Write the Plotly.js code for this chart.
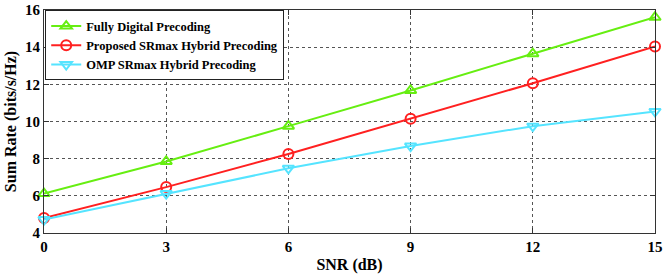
<!DOCTYPE html>
<html>
<head>
<meta charset="utf-8">
<script src="https://cdn.plot.ly/plotly-3.0.1.min.js"></script>
<style>html,body{margin:0;padding:0;background:#fff;}</style>
</head>
<body>
<div id="chart" style="width:664px;height:276px;"></div>
<script>
const snr = [0, 3, 6, 9, 12, 15];
const fullyDigital = [6.12, 7.85, 9.75, 11.67, 13.65, 15.61];
const proposedSRmax = [4.81, 6.47, 8.25, 10.15, 12.06, 14.04];
const ompSRmax = [4.72, 6.12, 7.48, 8.68, 9.75, 10.54];
const seriesNames = ["Fully Digital Precoding", "Proposed SRmax Hybrid Precoding", "OMP SRmax Hybrid Precoding"];
const xTicks = [0, 3, 6, 9, 12, 15];
const yTicks = [4, 6, 8, 10, 12, 14, 16];

const font = "'Liberation Serif', 'Times New Roman', serif";
function tr(y, name, color, symbol) {
  return {
    x: snr, y: y, name: name, type: "scatter", mode: "lines+markers",
    line: {color: color, width: 2},
    marker: {symbol: symbol, size: 10, color: color, line: {color: color, width: 2}},
    cliponaxis: false
  };
}
const data = [
  tr(fullyDigital, seriesNames[0], "#66ee11", "triangle-up-open"),
  tr(proposedSRmax, seriesNames[1], "#ff2020", "circle-open"),
  tr(ompSRmax, seriesNames[2], "#55e4ff", "triangle-down-open")
];
const layout = {
  width: 664, height: 276,
  margin: {l: 44, r: 9, t: 10, b: 43},
  paper_bgcolor: "#fff", plot_bgcolor: "#fff",
  font: {family: font, size: 13, color: "#000"},
  showlegend: true,
  legend: {
    x: 0.002, y: 0.998, xanchor: "left", yanchor: "top",
    bgcolor: "#fff", bordercolor: "#222", borderwidth: 1,
    font: {family: font, size: 12.5, color: "#000", weight: "bold"},
    tracegroupgap: 0, itemwidth: 30,
  },
  xaxis: {
    range: [0, 15], tickvals: xTicks, ticktext: xTicks.map(String),
    showline: true, linecolor: "#333", linewidth: 1, mirror: "ticks",
    ticks: "inside", ticklen: 5, tickcolor: "#333",
    showgrid: true, gridcolor: "#555", griddash: "dot", gridwidth: 1,
    zeroline: false,
    tickfont: {family: font, size: 15, weight: "bold"},
    title: {text: "SNR (dB)", font: {family: font, size: 16, weight: "bold"}, standoff: 4}
  },
  yaxis: {
    range: [4, 16], tickvals: yTicks, ticktext: yTicks.map(String),
    showline: true, linecolor: "#333", linewidth: 1, mirror: "ticks",
    ticks: "inside", ticklen: 5, tickcolor: "#333",
    showgrid: true, gridcolor: "#555", griddash: "dot", gridwidth: 1,
    zeroline: false,
    tickfont: {family: font, size: 15, weight: "bold"},
    title: {text: "Sum Rate (bits/s/Hz)", font: {family: font, size: 16, weight: "bold"}, standoff: 4}
  }
};
Plotly.newPlot("chart", data, layout, {displayModeBar: false, staticPlot: true});
</script>
</body>
</html>
